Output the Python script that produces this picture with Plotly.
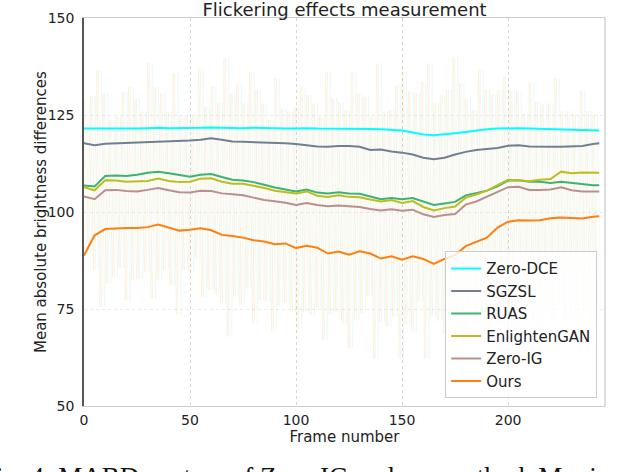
import plotly.graph_objects as go

# frame numbers of the smoothed curves
frames = list(range(0, 241, 5)) + [243]

# smoothed MABD curves
zero_dce = [121.5, 121.5, 121.4, 121.4, 121.5, 121.5, 121.6, 121.7, 121.6, 121.6,
            121.6, 121.7, 121.8, 121.7, 121.6, 121.6, 121.7, 121.6, 121.6, 121.5,
            121.5, 121.6, 121.5, 121.5, 121.4, 121.4, 121.5, 121.4, 121.3, 121.2,
            121.0, 120.5, 120.0, 119.8, 120.0, 120.3, 120.6, 121.0, 121.3, 121.5,
            121.6, 121.6, 121.5, 121.4, 121.3, 121.3, 121.2, 121.0, 121.0, 121.0]
sgzsl = [117.7, 117.2, 117.6, 117.7, 117.8, 117.8, 117.9, 118.0, 118.2, 118.3,
         118.4, 118.6, 119.0, 118.6, 118.2, 118.1, 118.0, 118.0, 117.8, 117.7,
         117.5, 117.2, 116.9, 116.8, 117.0, 117.0, 116.8, 116.0, 116.1, 115.6,
         115.3, 114.8, 114.0, 113.6, 114.0, 114.8, 115.5, 116.0, 116.3, 116.5,
         117.1, 117.2, 116.9, 116.8, 116.8, 116.8, 116.9, 117.0, 117.5, 117.7]
ruas = [106.8, 106.6, 109.3, 109.4, 109.3, 109.6, 110.1, 110.4, 110.0, 109.5,
        109.1, 109.6, 109.8, 109.0, 108.3, 108.1, 107.7, 107.0, 106.3, 105.8,
        105.3, 105.8, 105.0, 104.8, 105.1, 104.8, 104.7, 104.0, 103.3, 103.6,
        103.3, 103.6, 102.7, 101.8, 102.2, 102.6, 104.3, 104.9, 105.5, 106.6,
        108.1, 108.2, 107.8, 107.8, 107.5, 107.8, 107.5, 107.1, 106.9, 106.9]
enlightengan = [106.4, 105.6, 108.2, 108.1, 107.8, 107.9, 108.0, 108.6, 108.0, 107.7,
                107.8, 108.6, 108.7, 107.8, 107.3, 107.3, 106.8, 106.2, 105.5, 105.2,
                104.8, 105.3, 104.2, 103.9, 104.3, 103.9, 103.8, 103.2, 102.7, 103.1,
                102.3, 102.8, 101.3, 100.4, 101.0, 101.4, 103.7, 104.5, 105.5, 106.9,
                108.3, 108.2, 107.9, 108.3, 108.5, 110.4, 110.0, 110.2, 110.2, 110.1]
zero_ig = [104.0, 103.3, 105.6, 105.7, 105.4, 105.3, 105.7, 106.2, 105.6, 105.1,
           105.0, 105.5, 105.4, 104.8, 104.6, 104.3, 103.7, 103.1, 102.8, 102.4,
           101.8, 102.3, 101.8, 101.5, 101.7, 101.5, 101.3, 100.8, 100.4, 100.7,
           100.3, 100.6, 99.4, 98.7, 99.2, 99.5, 101.9, 102.7, 104.0, 105.2,
           106.4, 106.5, 105.7, 105.7, 105.8, 106.4, 105.6, 105.3, 105.3, 105.3]
ours = [88.8, 94.0, 95.6, 95.8, 95.9, 95.9, 96.1, 96.8, 96.0, 95.2,
        95.4, 95.8, 95.3, 94.1, 93.8, 93.4, 92.7, 92.4, 91.7, 91.9,
        90.7, 91.3, 90.8, 89.3, 89.8, 89.0, 89.9, 89.3, 88.0, 88.6,
        87.7, 88.6, 87.9, 86.6, 87.9, 88.9, 91.2, 92.3, 93.4, 96.0,
        97.5, 97.9, 97.8, 97.9, 98.4, 98.6, 98.5, 98.3, 98.8, 98.9]

# raw per-frame flicker, one spike every 3 frames (upper peaks / lower dips)
spike_peaks = [129.0, 129.9, 136.6, 130.6, 123.7, 124.6, 131.0, 132.3, 129.3, 125.9,
               138.5, 132.3, 130.6, 125.9, 135.7, 125.0, 125.0, 124.6, 137.0, 127.1,
               132.5, 128.0, 139.6, 130.6, 133.2, 128.0, 136.0, 131.4, 128.0, 123.7,
               134.5, 126.7, 125.9, 127.0, 132.3, 130.2, 128.0, 124.6, 136.2, 129.3,
               128.4, 126.3, 136.2, 130.6, 129.7, 124.6, 138.3, 125.9, 126.3, 132.7,
               136.2, 131.0, 130.6, 133.6, 138.3, 128.0, 130.2, 131.6, 140.0, 133.2,
               129.3, 126.3, 136.6, 131.6, 130.2, 131.4, 134.9, 131.4, 131.0, 125.4,
               133.2, 128.4, 127.7, 128.0, 134.5, 125.9, 126.0, 125.0, 131.4, 126.0,
               125.0]
spike_dips = [90.0, 85.1, 75.6, 81.6, 83.3, 85.5, 77.3, 82.5, 82.9, 84.6,
              77.8, 82.5, 85.1, 81.2, 73.5, 85.1, 84.6, 88.0, 77.8, 79.9,
              79.0, 76.5, 67.9, 78.2, 76.0, 80.3, 71.3, 77.3, 76.9, 69.2,
              76.0, 76.5, 74.3, 70.0, 74.3, 73.5, 75.2, 67.0, 73.5, 74.3,
              71.3, 64.9, 72.2, 73.9, 78.2, 62.3, 71.7, 70.4, 73.0, 62.3,
              70.9, 69.2, 76.9, 62.3, 73.0, 72.0, 68.5, 74.0, 70.5, 66.0,
              73.5, 71.0, 75.0, 69.0, 72.5, 74.5, 70.0, 67.5, 73.0, 75.5,
              71.5, 69.5, 74.0, 72.0, 76.0, 70.5, 73.5, 68.0, 74.5, 72.5,
              75.0]

series = [
    ('Zero-DCE', zero_dce, '#00ffff'),
    ('SGZSL', sgzsl, '#708090'),
    ('RUAS', ruas, '#3cb371'),
    ('EnlightenGAN', enlightengan, '#bcbd22'),
    ('Zero-IG', zero_ig, '#bc8f8f'),
    ('Ours', ours, '#ff7f0e'),
]

fig = go.Figure()

# faint raw traces in the background
faint = [(0.0, 'rgba(188,189,34,0.09)'), (0.8, 'rgba(255,127,14,0.06)'), (2.2, 'rgba(0,200,200,0.05)')]
for shift, col in faint:
    sx, sy = [], []
    for k, (p, d) in enumerate(zip(spike_peaks, spike_dips)):
        sx += [3 * k + shift, 3 * k + shift + 1.5]
        sy += [p, d]
    fig.add_trace(go.Scatter(x=sx, y=sy, mode='lines', line=dict(color=col, width=1),
                             showlegend=False, hoverinfo='skip'))

for name, vals, col in series:
    fig.add_trace(go.Scatter(x=frames, y=vals, mode='lines', name=name,
                             line=dict(color=col, width=2)))

fig.update_layout(
    width=640, height=472,
    margin=dict(l=84, r=35, t=18, b=66, autoexpand=False),
    paper_bgcolor='white', plot_bgcolor='white',
    font=dict(family='DejaVu Sans', size=15, color='#222222'),
    title=dict(text='Flickering effects measurement', font=dict(size=18),
               xref='paper', x=0.5, xanchor='center',
               yref='container', y=0.979, yanchor='middle'),
    legend=dict(x=0.985, y=0.02, xanchor='right', yanchor='bottom',
                bgcolor='rgba(255,255,255,0.8)', bordercolor='#cccccc', borderwidth=1,
                font=dict(size=15), tracegroupgap=0, itemwidth=30),
    showlegend=True,
)
fig.update_xaxes(range=[0, 245.7], tickvals=[0, 50, 100, 150, 200], tickfont=dict(size=14),
                 showgrid=True, gridcolor='#d8d8d8', griddash='dot', zeroline=False,
                 showline=True, linecolor='#cccccc', linewidth=1, mirror=True,
                 ticks='', ticklabelstandoff=1, automargin=False,
                 title=dict(text='Frame number', font=dict(size=15), standoff=1))
fig.update_yaxes(range=[50, 150], tickvals=[50, 75, 100, 125, 150], tickfont=dict(size=14),
                 showgrid=True, gridcolor='#ececec', griddash='dot', zeroline=False,
                 showline=True, linecolor='#555555', linewidth=1.5,
                 ticks='', ticklabelstandoff=5, automargin=False)
# right spine
fig.add_shape(type='line', xref='paper', yref='paper', x0=1, x1=1, y0=0, y1=1,
              line=dict(color='#bbbbbb', width=1))

# y axis title placed by hand, closer to the tick labels
fig.add_annotation(text='Mean absolute brightness differences', textangle=-90,
                   xref='paper', yref='paper', x=-0.0825, y=0.5,
                   xanchor='center', yanchor='middle', showarrow=False,
                   font=dict(size=15, color='#222222'))

# paper caption, cut by the page edges
fig.add_annotation(text='Fig. 4: MABD vectors of Zero-IG and our method. Movie',
                   xref='paper', yref='paper', x=-0.2015, y=-0.138,
                   xanchor='left', yanchor='top', showarrow=False,
                   font=dict(family='Liberation Serif', size=27, color='#111111'))

# page has a default 8px body margin; drop it so the figure fills the window
fig.write_html('out.html', config={'displayModeBar': False},
               post_script="document.body.style.margin='0';document.body.style.overflow='hidden';")
